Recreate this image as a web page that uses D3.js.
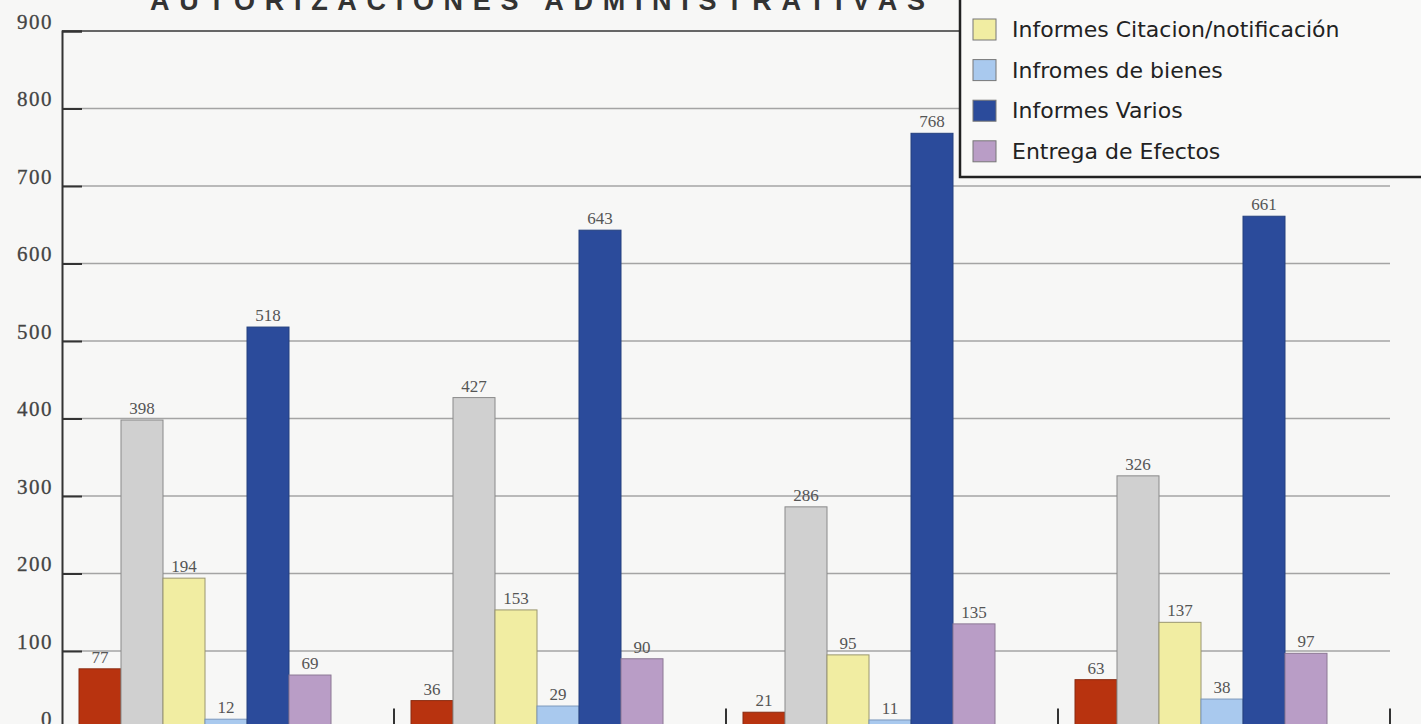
<!DOCTYPE html>
<html>
<head>
<meta charset="utf-8">
<script src="https://cdn.jsdelivr.net/npm/d3@7"></script>
<style>
  body { margin: 0; background: #f7f7f6; }
  svg { display: block; }
</style>
</head>
<body>
<script>
const svgWidth = 1421;
const svgHeight = 724;

// datos
const groups = ['2004', '2005', '2006', '2007'];
const series = ['Autorizaciones', 'Informes Autorizaciones', 'Informes Citacion/notificación',
                'Infromes de bienes', 'Informes Varios', 'Entrega de Efectos'];
const colors = ['#b8330f', '#d0d0d0', '#f1eda2', '#a9c9ee', '#2b4b9b', '#b99dc6'];
const strokes = ['#8a2a10', '#8a8a8a', '#9a9670', '#7c98bc', '#24407f', '#8c7894'];
const valores = [
    [77, 398, 194, 12, 518, 69],
    [36, 427, 153, 29, 643, 90],
    [21, 286, 95, 11, 768, 135],
    [63, 326, 137, 38, 661, 97]
];
const yTicks = [0, 100, 200, 300, 400, 500, 600, 700, 800, 900];
const titulo = 'AUTORIZACIONES ADMINISTRATIVAS';

const svg = d3.select('body')
    .append('svg')
    .attr('width', svgWidth)
    .attr('height', svgHeight);

// escalas
const x0 = d3.scaleBand().domain(groups).range([62, 1390]);
const x1 = d3.scaleBand().domain(series).range([17, 269]);
const y = d3.scaleLinear().domain([0, 900]).range([728.5, 31]);

// lineas de rejilla
svg.append('g')
    .selectAll('line')
    .data(yTicks.filter(t => t > 0 && t < 900))
    .enter()
    .append('line')
    .attr('x1', 62)
    .attr('x2', 1390)
    .attr('y1', d => y(d))
    .attr('y2', d => y(d))
    .attr('stroke', '#a4a4a4')
    .attr('stroke-width', 1.3);

// linea superior (900) mas oscura
svg.append('line')
    .attr('x1', 62).attr('x2', 1390)
    .attr('y1', y(900)).attr('y2', y(900))
    .attr('stroke', '#666')
    .attr('stroke-width', 2.2);

// separadores entre grupos
svg.append('g')
    .selectAll('line')
    .data(groups)
    .enter()
    .append('line')
    .attr('x1', d => x0(d) + x0.bandwidth())
    .attr('x2', d => x0(d) + x0.bandwidth())
    .attr('y1', y(0) - 20)
    .attr('y2', y(0))
    .attr('stroke', '#333')
    .attr('stroke-width', 2);

// eje Y
const yAxis = svg.append('g')
    .attr('transform', 'translate(62,0)')
    .call(d3.axisLeft(y).tickValues(yTicks).tickSize(-20).tickPadding(9).tickFormat(d3.format('d')));
yAxis.select('.domain').attr('stroke', '#333').attr('stroke-width', 2);
yAxis.selectAll('.tick line').attr('stroke', '#333').attr('stroke-width', 2);
yAxis.selectAll('.tick text')
    .attr('dy', '-0.12em')
    .style('font-family', '"Liberation Serif", "DejaVu Serif", serif')
    .style('font-size', '21px')
    .style('letter-spacing', '1.5px')
    .attr('fill', '#444')
    .attr('stroke', '#444')
    .attr('stroke-width', 0.3);

// barras
const grupo = svg.append('g')
    .selectAll('g')
    .data(valores)
    .enter()
    .append('g')
    .attr('transform', (d, i) => 'translate(' + x0(groups[i]) + ',0)');

grupo.selectAll('rect')
    .data(d => d.map((v, j) => ({ serie: series[j], v: v, j: j })))
    .enter()
    .append('rect')
    .attr('x', d => x1(d.serie))
    .attr('y', d => y(d.v))
    .attr('width', x1.bandwidth())
    .attr('height', d => y(0) - y(d.v))
    .attr('fill', d => colors[d.j])
    .attr('stroke', d => strokes[d.j])
    .attr('stroke-width', 1);

// etiquetas de valor
grupo.selectAll('text')
    .data(d => d.map((v, j) => ({ serie: series[j], v: v })))
    .enter()
    .append('text')
    .attr('x', d => x1(d.serie) + x1.bandwidth() / 2)
    .attr('y', d => y(d.v) - 6)
    .attr('text-anchor', 'middle')
    .style('font-family', '"Liberation Serif", "DejaVu Serif", serif')
    .style('font-size', '17px')
    .attr('fill', '#555')
    .text(d => d.v);

// titulo (cortado arriba)
svg.append('text')
    .attr('x', 150)
    .attr('y', 10)
    .attr('textLength', 775)
    .attr('lengthAdjust', 'spacing')
    .style('font-family', '"Liberation Sans", Arial, sans-serif')
    .style('font-size', '27px')
    .style('font-weight', 'bold')
    .attr('fill', '#333')
    .text(titulo);

// leyenda
const leyenda = svg.append('g');
leyenda.append('rect')
    .attr('x', 960)
    .attr('y', -10)
    .attr('width', 480)
    .attr('height', 187)
    .attr('fill', '#f9f9f8')
    .attr('stroke', '#222')
    .attr('stroke-width', 2.5);

const filas = leyenda.selectAll('g.fila')
    .data(series)
    .enter()
    .append('g')
    .attr('class', 'fila')
    .attr('transform', (d, i) => 'translate(973,' + (29 + (i - 2) * 40.6) + ')');

filas.append('rect')
    .attr('x', 0)
    .attr('y', -10)
    .attr('width', 23)
    .attr('height', 21)
    .attr('fill', (d, i) => colors[i])
    .attr('stroke', '#777')
    .attr('stroke-width', 1);

filas.append('text')
    .attr('x', 39)
    .attr('y', 8)
    .style('font-family', '"Comic Sans MS", "DejaVu Sans", sans-serif')
    .style('font-size', '22px')
    .attr('fill', '#222')
    .text(d => d);
</script>
</body>
</html>
